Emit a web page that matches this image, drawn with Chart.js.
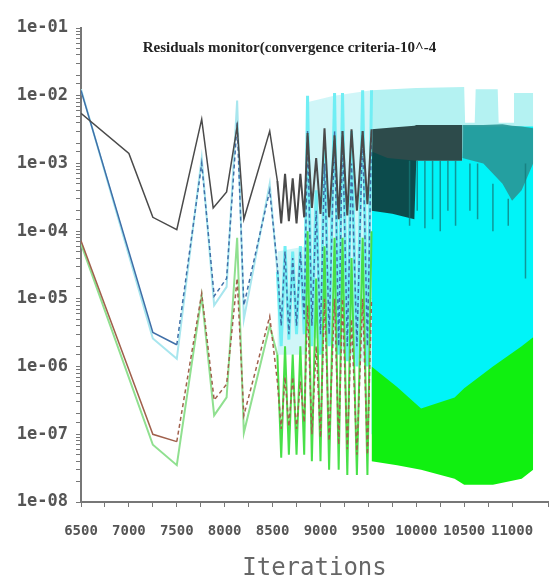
<!DOCTYPE html>
<html>
<head>
<meta charset="UTF-8">
<title>Residuals monitor</title>
<script src="https://cdn.jsdelivr.net/npm/chart.js@4.4.0/dist/chart.umd.min.js"></script>
<style>
  body { margin: 0; background: #fff; }
</style>
</head>
<body>
<canvas id="res" width="551" height="583"></canvas>
<script>
// title text
const chartTitle = 'Residuals monitor(convergence criteria-10^-4';
const axisTitle = 'Iterations';

// early part of the run, one point per visible corner
const blackIters = [6500, 7000, 7250, 7500, 7760, 7880, 8020, 8130, 8200, 8470];
const blackVals  = [5.5e-3, 1.4e-3, 1.6e-4, 1.05e-4, 4.5e-3, 2.2e-4, 3.8e-4, 3.5e-3, 1.5e-4, 3e-3];

const earlyIters = [6500, 7250, 7500, 7760, 7890, 8020, 8130, 8200, 8470];
const cyanVals   = [1.25e-2, 2.6e-6, 1.3e-6, 1.2e-3, 8e-6, 1.5e-5, 8.5e-3, 5e-6, 5e-4];
const blueVals   = [1.2e-2, 3.2e-6, 2.1e-6, 1e-3, 1.1e-5, 2e-5, 4e-3, 8e-6, 4e-4];
const redVals    = [7.2e-5, 1.0e-7, 7.8e-8, 1.2e-5, 3.2e-7, 5.5e-7, 2e-5, 1.9e-7, 5.5e-6];
const greenVals  = [6.5e-5, 7e-8, 3.5e-8, 1.1e-5, 1.9e-7, 3.5e-7, 8e-5, 1.05e-7, 4e-6];

// oscillating part, high / low turns
const zigIters = [8550, 8590, 8630, 8670, 8710, 8750, 8790, 8830, 8865, 8910, 8955, 9000,
                  9042, 9090, 9147, 9190, 9230, 9280, 9324, 9380, 9440, 9490, 9533];
const blackZig = [5.5e-4, 1.3e-4, 7e-4, 1.4e-4, 6e-4, 1.3e-4, 7e-4, 1.6e-4, 2.8e-3, 2.2e-4, 1.2e-3, 1.8e-4,
                  3.3e-3, 1.6e-4, 2.6e-3, 1.5e-4, 3e-3, 1.7e-4, 3.2e-3, 2e-4, 3e-3, 2.5e-4, 3.2e-3];
const cyanZig  = [2.5e-5, 2e-6, 6e-5, 2.5e-6, 5e-5, 3e-6, 6e-5, 3e-6, 1e-2, 2e-6, 4e-4, 1.5e-6,
                  2e-3, 2e-6, 1.1e-2, 1.5e-6, 1.1e-2, 1.2e-6, 3e-3, 1e-6, 1.2e-2, 1e-6, 1.2e-2];
const blueZig  = [3e-5, 4e-6, 5e-5, 3e-6, 4e-5, 4e-6, 5e-5, 5e-6, 3e-3, 4e-6, 2e-4, 3e-6,
                  1e-3, 3e-6, 3e-3, 2e-6, 3e-3, 2e-6, 1e-3, 2e-6, 3e-3, 2e-6, 3e-3];
const redZig   = [6e-7, 1.2e-7, 7e-7, 1.3e-7, 7e-7, 1.2e-7, 6e-7, 1.5e-7, 8e-6, 1e-7, 2e-6, 9e-8,
                  1e-5, 8e-8, 1e-5, 7e-8, 1e-5, 6e-8, 5e-6, 5e-8, 1e-5, 5e-8, 1e-5];
const greenZig = [1.5e-6, 4.5e-8, 2e-6, 5e-8, 1.5e-6, 5e-8, 2e-6, 5e-8, 1e-4, 4e-8, 2e-5, 4e-8,
                  6e-5, 3e-8, 8e-5, 3e-8, 8e-5, 2.5e-8, 4e-5, 2.5e-8, 8e-5, 2.5e-8, 1e-4];

// pale haze behind the oscillations
const hazeIters  = [8550, 8850, 8860, 9140, 9533];
const hazeTop    = [5e-5, 6e-5, 8e-3, 1e-2, 1.2e-2];
const hazeBottom = [1.5e-6, 1.5e-6, 3e-6, 2e-6, 1e-6];

// dense part after 9500: the curves fill solid bands, kept as envelopes
const paleIters = [9533, 10000, 10500, 10510, 10610, 10620, 10850, 10860, 11010, 11020, 11220];
const paleTop   = [1.2e-2, 1.3e-2, 1.35e-2, 4e-3, 4e-3, 1.25e-2, 1.25e-2, 4e-3, 4e-3, 1.1e-2, 1.1e-2];

const cyanBandIters = [9533, 9700, 10000, 10480, 10500, 11220];
const cyanBandTop   = [1.5e-3, 1.2e-3, 1.1e-3, 1.1e-3, 3.5e-3, 3.5e-3];

const darkIters  = [9533, 9750, 9980, 10000, 10480];
const darkTop    = [3.2e-3, 3.4e-3, 3.6e-3, 3.7e-3, 3.7e-3];
const darkBottom = [2e-4, 1.8e-4, 1.5e-4, 1.1e-3, 1.1e-3];

const tealIters  = [10480, 10700, 10900, 11000, 11100, 11220];
const tealTop    = [3.7e-3, 3.7e-3, 3.8e-3, 3.6e-3, 3.5e-3, 3.3e-3];
const tealBottom = [1.2e-3, 1e-3, 5e-4, 2.8e-4, 4e-4, 1e-3];

const greenBandIters  = [9533, 9800, 10050, 10400, 10500, 10800, 11100, 11220];
const greenBandTop    = [1e-6, 5e-7, 2.4e-7, 3.5e-7, 4.8e-7, 1e-6, 2e-6, 2.7e-6];
const greenBandBottom = [4e-8, 3.5e-8, 3e-8, 2.2e-8, 1.8e-8, 1.8e-8, 2.2e-8, 3e-8];

// single dark strokes visible inside the cyan mass
const streakIters  = [9930, 10010, 10090, 10170, 10250, 10330, 10410, 10560, 10640, 10800, 10960, 11140];
const streakTop    = [1.1e-3, 1.1e-3, 1.1e-3, 1.1e-3, 1.1e-3, 1.1e-3, 1.1e-3, 1e-3, 1e-3, 5e-4, 3e-4, 1e-3];
const streakBottom = [1.2e-4, 2e-4, 1.1e-4, 1.5e-4, 1e-4, 2e-4, 1.2e-4, 2e-4, 1.5e-4, 1e-4, 1.2e-4, 2e-5];

const bandFloor = 1e-7;

function pts(xs, ys) {
  return xs.map((x, i) => ({ x: x, y: ys[i] }));
}

function strokes(xs, tops, bottoms) {
  const out = [];
  xs.forEach((x, i) => {
    out.push({ x: x, y: tops[i] }, { x: x, y: bottoms[i] }, { x: x, y: null });
  });
  return out;
}

function curve(xs, ys, color, width, extra) {
  return Object.assign({
    data: pts(xs, ys),
    borderColor: color,
    borderWidth: width,
    pointRadius: 0,
    fill: false,
    tension: 0
  }, extra || {});
}

function band(xs, ys, color, fill) {
  return {
    data: pts(xs, ys),
    borderColor: color,
    borderWidth: 0,
    backgroundColor: color,
    pointRadius: 0,
    fill: fill,
    tension: 0
  };
}

const dashAfter = x0 => ({ borderDash: ctx => ctx.p0.parsed.x >= x0 ? [4, 3] : undefined });
const none = 'rgba(0,0,0,0)';

const datasets = [
  curve(blackIters.concat(zigIters), blackVals.concat(blackZig), '#4a4a4a', 1.5, {
    segment: { borderWidth: ctx => ctx.p0.parsed.x >= 8550 ? 2 : undefined }
  }),
  curve(earlyIters.concat(zigIters), redVals.concat(redZig), '#a0604c', 1.5, { segment: dashAfter(7500) }),
  curve(earlyIters.concat(zigIters), blueVals.concat(blueZig), '#3f6fa8', 1.5, { segment: dashAfter(7500) }),
  curve(earlyIters.concat(zigIters), greenVals.concat(greenZig), '#90e090', 2, {
    segment: { borderColor: ctx => ctx.p0.parsed.x >= 8550 ? '#48e048' : undefined }
  }),
  curve(earlyIters.concat(zigIters), cyanVals.concat(cyanZig), '#a8e6ee', 2, {
    segment: {
      borderColor: ctx => ctx.p0.parsed.x >= 8550 ? '#70eef4' : undefined,
      borderWidth: ctx => ctx.p0.parsed.x >= 8550 ? 3 : undefined
    }
  }),
  {
    data: strokes(streakIters, streakTop, streakBottom),
    borderColor: 'rgba(20,120,120,0.75)',
    borderWidth: 1.5,
    pointRadius: 0,
    fill: false,
    spanGaps: false
  },
  band(hazeIters, hazeTop, 'rgba(196,244,246,0.8)', '+1'),
  band(hazeIters, hazeBottom, none, false),
  band(tealIters, tealTop, 'rgba(40,150,150,0.9)', '+1'),
  band(tealIters, tealBottom, none, false),
  band(darkIters, darkTop, 'rgba(15,38,38,0.82)', '+1'),
  band(darkIters, darkBottom, none, false),
  band(greenBandIters, greenBandTop, '#10f010', '+1'),
  band(greenBandIters, greenBandBottom, none, false),
  band(cyanBandIters, cyanBandTop, '#00f4f8', { value: bandFloor }),
  band(paleIters, paleTop, '#b4f2f2', { value: bandFloor })
];

const insideTitle = {
  id: 'insideTitle',
  afterDraw(chart) {
    const a = chart.chartArea;
    const c = chart.ctx;
    c.save();
    c.font = 'bold 15px "Liberation Serif", serif';
    c.fillStyle = '#222';
    c.textAlign = 'center';
    c.textBaseline = 'middle';
    c.fillText(chartTitle, (a.left + a.right) / 2 - 25, a.top + 20);
    c.restore();
  }
};

const mono = "'DejaVu Sans Mono', monospace";

new Chart(document.getElementById('res'), {
  type: 'line',
  data: { datasets: datasets },
  plugins: [insideTitle],
  options: {
    responsive: false,
    animation: false,
    devicePixelRatio: 1,
    layout: { padding: { top: 28, right: 3, left: 0, bottom: 0 } },
    plugins: { legend: { display: false }, tooltip: { enabled: false } },
    scales: {
      x: {
        type: 'linear',
        min: 6500,
        max: 11375,
        afterFit: s => { s.height = 81; s.paddingRight = 0; s.paddingLeft = 0; },
        border: { display: true, color: '#777', width: 2 },
        grid: { drawOnChartArea: false, drawTicks: true, tickLength: 5, color: '#777' },
        ticks: {
          stepSize: 250,
          autoSkip: false,
          maxRotation: 0,
          padding: 16,
          color: '#555',
          font: { family: mono, size: 14, weight: 'bold' },
          callback: v => v % 500 === 0 ? String(v) : ''
        },
        title: {
          display: true,
          text: axisTitle,
          color: '#666',
          font: { family: mono, size: 24 },
          padding: { top: 0, bottom: 0 }
        }
      },
      y: {
        type: 'logarithmic',
        min: 1e-8,
        max: 1e-1,
        afterFit: s => { s.width = 81; },
        border: { display: true, color: '#777', width: 2 },
        grid: { drawOnChartArea: false, drawTicks: true, tickLength: 5, color: '#777' },
        ticks: {
          autoSkip: false,
          padding: 8,
          color: '#555',
          font: { family: mono, size: 17, weight: 'bold' },
          callback: v => {
            const e = Math.log10(v);
            if (Math.abs(e - Math.round(e)) > 1e-6) return '';
            return '1e-' + String(-Math.round(e)).padStart(2, '0');
          }
        }
      }
    }
  }
});
</script>
</body>
</html>
